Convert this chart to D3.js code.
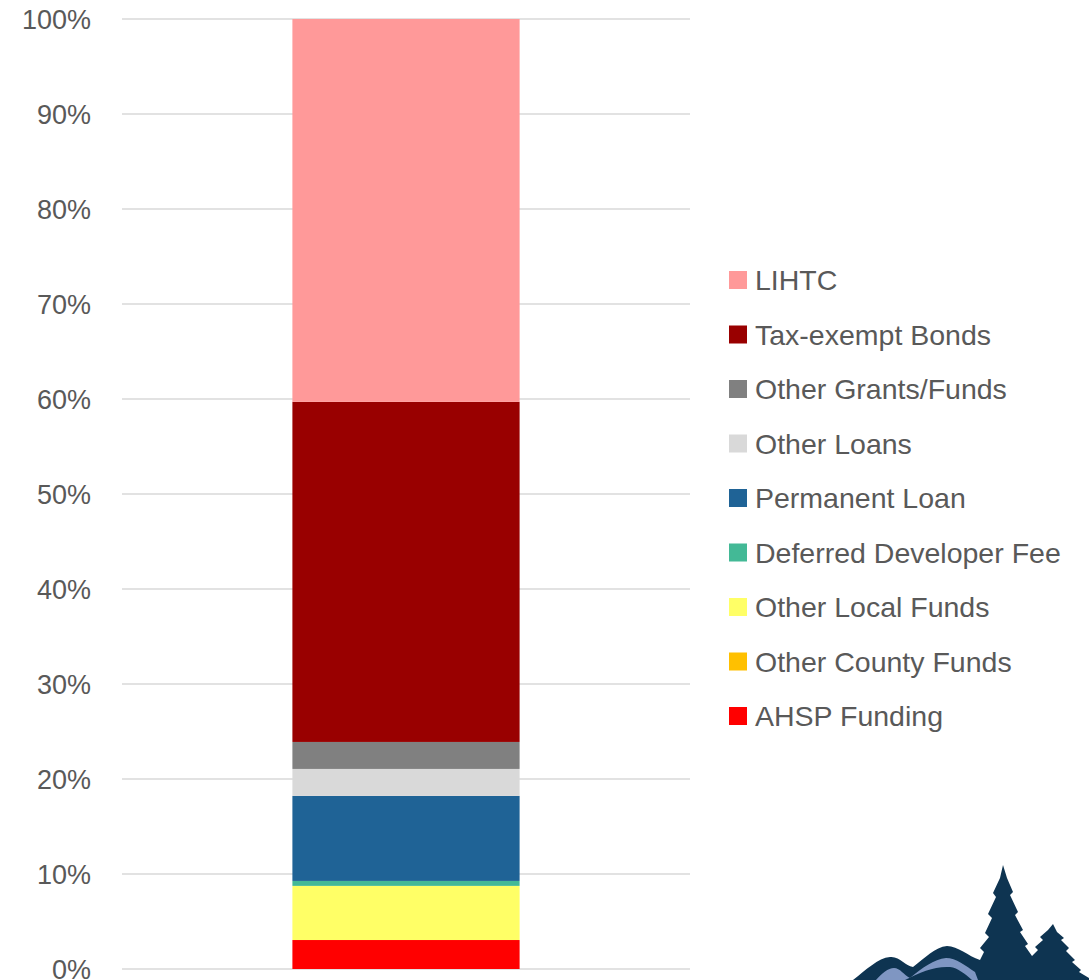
<!DOCTYPE html>
<html>
<head>
<meta charset="utf-8">
<script src="https://cdn.jsdelivr.net/npm/d3@7"></script>
<style>
  html, body { margin: 0; padding: 0; background: #fff; }
  svg { display: block; }
  text { font-family: "Liberation Sans", Arial, sans-serif; fill: #595959; }
</style>
</head>
<body>
<svg id="chart" width="1089" height="980"></svg>
<script>
// Funding sources, listed from the bottom of the stack upward
const sources = ["AHSP Funding", "Other County Funds", "Other Local Funds", "Deferred Developer Fee",
                 "Permanent Loan", "Other Loans", "Other Grants/Funds", "Tax-exempt Bonds", "LIHTC"];
// Share of total funding, in percent
const shares = [3.05, 0, 5.7, 0.52, 8.95, 2.84, 2.84, 35.8, 40.3];
const sourceColors = ["#ff0000", "#ffc000", "#ffff66", "#43b996", "#1f6396",
                      "#d9d9d9", "#808080", "#990000", "#ff9999"];
const categories = ["Total"];
const yTicks = [0, 10, 20, 30, 40, 50, 60, 70, 80, 90, 100];

const svg = d3.select("#chart");
const plot = { left: 122, right: 690, top: 19, bottom: 969 };

const row = { category: categories[0] };
sources.forEach((s, i) => { row[s] = shares[i]; });
const stacked = d3.stack().keys(sources)([row]);

const x = d3.scaleBand().domain(categories).range([plot.left, plot.right])
  .paddingInner(0).paddingOuter(0.75);
const y = d3.scaleLinear().domain([0, 100]).range([plot.bottom, plot.top]);
const color = d3.scaleOrdinal().domain(sources).range(sourceColors);

// Horizontal gridlines
svg.append("g")
  .selectAll("line").data(yTicks).join("line")
  .attr("x1", plot.left).attr("x2", plot.right)
  .attr("y1", d => y(d)).attr("y2", d => y(d))
  .attr("stroke", "#d9d9d9").attr("stroke-width", 1.5);

// Y axis labels
const yAxis = d3.axisLeft(y).tickValues(yTicks).tickFormat(d => d + "%").tickSize(0).tickPadding(0);
const ag = svg.append("g").attr("transform", `translate(91,0)`).call(yAxis);
ag.select(".domain").remove();
ag.selectAll("text")
  .attr("font-family", "Liberation Sans, Arial, sans-serif")
  .attr("font-size", 27).attr("fill", "#595959").attr("dy", "0.35em");

// Stacked bar segments
svg.append("g")
  .selectAll("g").data(stacked).join("g")
  .attr("fill", d => color(d.key))
  .selectAll("rect").data(d => d).join("rect")
  .attr("x", d => x(d.data.category))
  .attr("width", x.bandwidth())
  .attr("y", d => y(d[1]))
  .attr("height", d => y(d[0]) - y(d[1]));

// Legend, top to bottom in reverse stack order
const legendItems = sources.slice().reverse();
const lg = svg.append("g").attr("transform", "translate(729,280)");
const item = lg.selectAll("g").data(legendItems).join("g")
  .attr("transform", (d, i) => `translate(0,${i * 54.5})`);
item.append("rect").attr("x", 0).attr("y", -9).attr("width", 18).attr("height", 18)
  .attr("fill", d => color(d));
item.append("text").attr("x", 26).attr("y", 0).attr("dy", "0.36em")
  .attr("font-size", 28.5).text(d => d);

// Emblem in the lower right corner: mountains and evergreens
const emblem = svg.append("g");
emblem.append("path")
  .attr("fill", "#0e3451")
  .attr("d", "M853,980 C866,970 878,958 890,957 C900,956 905,966 913,967 C925,958 935,947 947,946 C958,946 968,956 980,960 L984,952 L980,948 L989,937 L985,933 L992,918 L988,914 L996,897 L993,893 L1000,878 L1003,865 L1007,878 L1013,892 L1010,895 L1018,912 L1015,915 L1023,930 L1020,932 L1028,944 L1025,946 L1032,956 L1038,950 L1035,947 L1043,940 L1040,937 L1048,930 L1053,924 L1057,932 L1064,938 L1061,940 L1069,948 L1066,951 L1075,960 L1072,962 L1081,970 L1079,972 L1089,978 L1089,980 Z");
emblem.append("path")
  .attr("fill", "#7f96c2")
  .attr("d", "M876,980 C882,973 888,968 894,968 C900,968 904,975 910,978 C922,968 934,959 946,958 C956,958 966,966 975,972 L978,980 Z");
emblem.append("path")
  .attr("fill", "#0e3451")
  .attr("d", "M905,980 C920,972 935,966 950,967 C958,968 965,974 972,980 Z");
</script>
</body>
</html>
